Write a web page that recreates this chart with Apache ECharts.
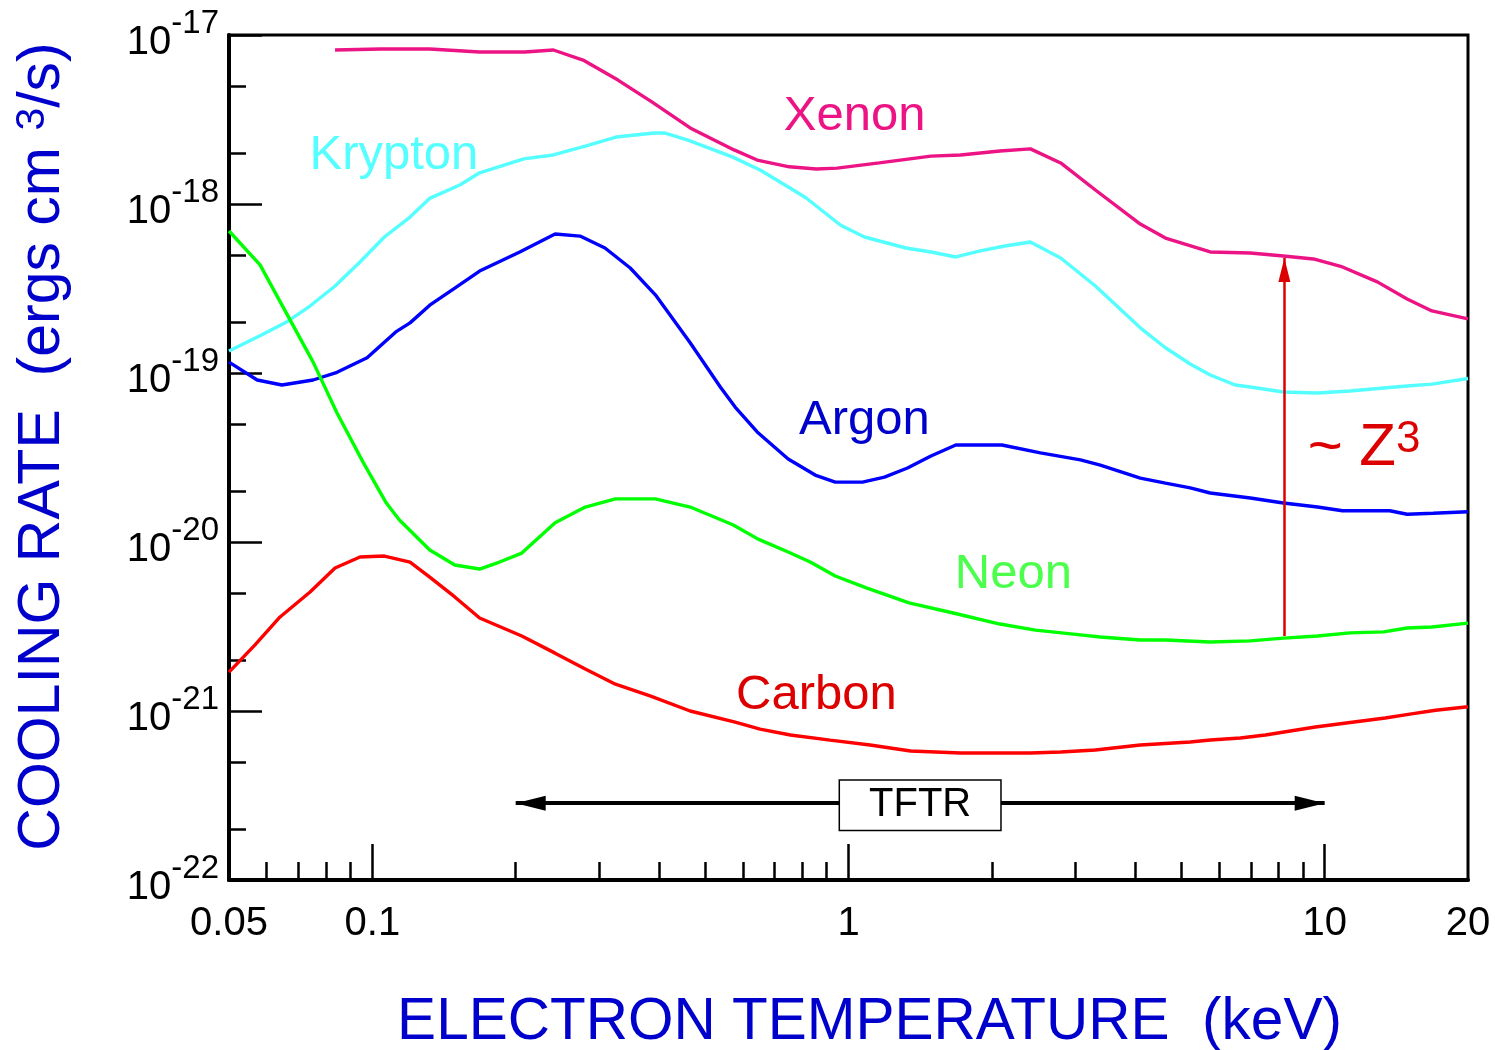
<!DOCTYPE html>
<html>
<head>
<meta charset="utf-8">
<script src="https://cdn.jsdelivr.net/npm/echarts@6/dist/echarts.min.js"></script>
<style>
html, body { margin: 0; padding: 0; background: #ffffff; }
#chart { width: 1495px; height: 1050px; }
</style>
</head>
<body>
<div id="chart"></div>
<script>
const FONT = '"Liberation Sans", Arial, Helvetica, sans-serif';

// ---- axis ticks / labels ----
const xTickLabels = [0.05, 0.1, 1, 10, 20];
const xMajorTicks = [0.1, 1, 10];
const xMinorTicks = [0.06, 0.07, 0.08, 0.09, 0.2, 0.3, 0.4, 0.5, 0.6, 0.7, 0.8, 0.9, 2, 3, 4, 5, 6, 7, 8, 9];
const yMajorTicks = [1e-22, 1e-21, 1e-20, 1e-19, 1e-18, 1e-17];
const yTickExponents = ['-22', '-21', '-20', '-19', '-18', '-17'];
const yMinorTicks = [2e-22, 5e-22, 2e-21, 5e-21, 2e-20, 5e-20, 2e-19, 5e-19, 2e-18, 5e-18];

// ---- series data: [electron temperature (keV), cooling rate (ergs cm^3/s)] ----
const xenon = [
  [0.0835, 8.15e-18], [0.104, 8.26e-18], [0.132, 8.26e-18], [0.168, 7.93e-18], [0.209, 7.93e-18],
  [0.240, 8.15e-18], [0.277, 7.11e-18], [0.328, 5.41e-18], [0.387, 4.01e-18], [0.465, 2.82e-18],
  [0.575, 2.09e-18], [0.643, 1.82e-18], [0.751, 1.66e-18], [0.856, 1.61e-18], [0.947, 1.63e-18],
  [1.16, 1.75e-18], [1.49, 1.92e-18], [1.72, 1.95e-18], [2.08, 2.06e-18], [2.41, 2.12e-18],
  [2.79, 1.75e-18], [3.30, 1.21e-18], [4.10, 7.61e-19], [4.63, 6.29e-19], [5.75, 5.20e-19],
  [6.98, 5.13e-19], [8.19, 4.92e-19], [9.47, 4.73e-19], [10.9, 4.24e-19], [12.9, 3.46e-19],
  [14.9, 2.74e-19], [16.8, 2.33e-19], [20, 2.09e-19]
];
const krypton = [
  [0.05, 1.35e-19], [0.0581, 1.66e-19], [0.0656, 1.98e-19], [0.074, 2.49e-19], [0.0835, 3.27e-19],
  [0.0942, 4.54e-19], [0.106, 6.38e-19], [0.120, 8.37e-19], [0.132, 1.08e-18], [0.153, 1.30e-18],
  [0.168, 1.53e-18], [0.208, 1.85e-18], [0.240, 1.95e-18], [0.280, 2.20e-18], [0.325, 2.49e-18],
  [0.391, 2.63e-18], [0.412, 2.63e-18], [0.460, 2.39e-18], [0.570, 1.90e-18], [0.652, 1.59e-18],
  [0.755, 1.24e-18], [0.815, 1.085e-18], [0.961, 7.51e-19], [1.08, 6.38e-19], [1.32, 5.49e-19],
  [1.49, 5.20e-19], [1.68, 4.86e-19], [1.89, 5.28e-19], [2.13, 5.64e-19], [2.41, 5.96e-19],
  [2.79, 4.79e-19], [3.30, 3.27e-19], [4.10, 1.85e-19], [4.63, 1.41e-19], [5.22, 1.13e-19],
  [5.75, 9.73e-20], [6.49, 8.49e-20], [6.98, 8.26e-20], [8.19, 7.72e-20], [9.66, 7.61e-20],
  [11.3, 7.82e-20], [13.3, 8.15e-20], [14.9, 8.37e-20], [16.8, 8.60e-20], [20, 9.28e-20]
];
const argon = [
  [0.05, 1.16e-19], [0.0573, 9.09e-20], [0.0646, 8.49e-20], [0.0751, 9.09e-20], [0.0843, 1.01e-19],
  [0.0975, 1.23e-19], [0.112, 1.75e-19], [0.120, 1.98e-19], [0.132, 2.52e-19], [0.149, 3.18e-19],
  [0.168, 4.01e-19], [0.204, 5.20e-19], [0.242, 6.64e-19], [0.273, 6.46e-19], [0.308, 5.49e-19],
  [0.348, 4.18e-19], [0.393, 2.90e-19], [0.465, 1.51e-19], [0.538, 8.26e-20], [0.578, 6.29e-20],
  [0.643, 4.48e-20], [0.747, 3.10e-20], [0.851, 2.49e-20], [0.938, 2.26e-20], [1.07, 2.26e-20],
  [1.19, 2.42e-20], [1.33, 2.74e-20], [1.49, 3.23e-20], [1.68, 3.75e-20], [2.10, 3.75e-20],
  [2.53, 3.37e-20], [3.07, 3.06e-20], [3.38, 2.85e-20], [4.10, 2.39e-20], [4.63, 2.23e-20],
  [5.22, 2.09e-20], [5.75, 1.95e-20], [6.98, 1.82e-20], [8.19, 1.70e-20], [9.66, 1.61e-20],
  [10.9, 1.53e-20], [13.7, 1.53e-20], [14.9, 1.46e-20], [16.9, 1.48e-20], [20, 1.51e-20]
];
const neon = [
  [0.05, 6.92e-19], [0.0581, 4.36e-19], [0.0656, 2.33e-19], [0.0751, 1.16e-19], [0.0843, 5.80e-20],
  [0.0956, 2.97e-20], [0.107, 1.70e-20], [0.114, 1.35e-20], [0.132, 8.96e-21], [0.149, 7.31e-21],
  [0.168, 6.92e-21], [0.185, 7.61e-21], [0.206, 8.60e-21], [0.242, 1.30e-20], [0.280, 1.61e-20],
  [0.324, 1.80e-20], [0.393, 1.80e-20], [0.465, 1.61e-20], [0.573, 1.26e-20], [0.646, 1.04e-20],
  [0.747, 8.72e-21], [0.831, 7.61e-21], [0.938, 6.29e-21], [1.09, 5.35e-21], [1.34, 4.36e-21],
  [1.66, 3.80e-21], [2.08, 3.27e-21], [2.47, 3.01e-21], [3.07, 2.82e-21], [3.38, 2.74e-21],
  [4.10, 2.63e-21], [4.63, 2.63e-21], [5.75, 2.56e-21], [6.98, 2.60e-21], [8.19, 2.70e-21],
  [9.66, 2.78e-21], [11.3, 2.90e-21], [13.3, 2.94e-21], [14.9, 3.10e-21], [16.8, 3.14e-21],
  [20, 3.31e-21]
];
const carbon = [
  [0.05, 1.70e-21], [0.0567, 2.46e-21], [0.064, 3.60e-21], [0.074, 5.06e-21], [0.0835, 7.02e-21],
  [0.0942, 8.15e-21], [0.106, 8.26e-21], [0.120, 7.61e-21], [0.132, 6.20e-21], [0.149, 4.73e-21],
  [0.168, 3.55e-21], [0.206, 2.78e-21], [0.242, 2.20e-21], [0.280, 1.77e-21], [0.324, 1.44e-21],
  [0.383, 1.23e-21], [0.465, 1.00e-21], [0.578, 8.60e-22], [0.652, 7.82e-22], [0.755, 7.21e-22],
  [0.915, 6.73e-22], [1.11, 6.29e-22], [1.35, 5.80e-22], [1.72, 5.64e-22], [2.08, 5.64e-22],
  [2.41, 5.64e-22], [2.79, 5.72e-22], [3.30, 5.88e-22], [4.10, 6.29e-22], [5.22, 6.55e-22],
  [5.75, 6.73e-22], [6.65, 6.92e-22], [7.51, 7.21e-22], [8.47, 7.61e-22], [9.56, 8.04e-22],
  [11.1, 8.49e-22], [13.4, 9.09e-22], [15.1, 9.59e-22], [17.1, 1.01e-21], [20, 1.06e-21]
];

// ---- annotations (data coordinates) ----
const seriesNames = ['Xenon', 'Krypton', 'Argon', 'Neon', 'Carbon'];
const labelAnchors = {
  Xenon: [1.03, 3.41e-18],
  Krypton: [0.111, 2.03e-18],
  Argon: [1.08, 5.42e-20],
  Neon: [2.22, 6.73e-21],
  Carbon: [0.856, 1.28e-21]
};
const tftrRange = [0.2, 10];
const tftrLevel = 2.85e-22;
const tftrLabelT = 1.414;
const z3ArrowT = 8.23;
const z3ArrowFrom = 2.78e-21;
const z3ArrowTo = 4.79e-19;
const z3LabelAnchor = [12.1, 3.65e-20];

const lineColors = { Xenon: '#EC1385', Krypton: '#55FFFF', Argon: '#0000FF', Neon: '#00FF00', Carbon: '#FF0000' };
const textColors = { Xenon: '#EC1385', Krypton: '#55FFFF', Argon: '#0000CC', Neon: '#4CFF4C', Carbon: '#DD0000' };
const dataByName = { Xenon: xenon, Krypton: krypton, Argon: argon, Neon: neon, Carbon: carbon };

function closestIndex(arr, v) {
  let best = 0, bd = Infinity;
  arr.forEach((a, i) => {
    const d = Math.abs(Math.log10(a) - Math.log10(v));
    if (d < bd) { bd = d; best = i; }
  });
  return best;
}

const series = seriesNames.map(name => ({
  type: 'line',
  name: name,
  data: dataByName[name],
  xAxisIndex: 0,
  yAxisIndex: 0,
  symbol: 'none',
  showSymbol: false,
  smooth: false,
  silent: true,
  z: 3,
  lineStyle: { color: lineColors[name], width: 3.4 },
  itemStyle: { color: lineColors[name] },
  markPoint: {
    silent: true,
    animation: false,
    symbol: 'circle',
    symbolSize: 0,
    data: [{
      coord: labelAnchors[name],
      label: {
        show: true, position: 'inside', formatter: name, offset: [0, 3],
        color: textColors[name], fontFamily: FONT, fontSize: 49
      }
    }]
  }
}));

// Z^3 arrow (attached to Neon) and its label
const neonSeries = series[3];
neonSeries.markLine = {
  silent: true,
  animation: false,
  symbol: ['none', 'triangle'],
  symbolSize: [12, 24],
  symbolOffset: [[0, 0], [0, '50%']],
  lineStyle: { color: '#DD0000', width: 2.5, type: 'solid' },
  label: { show: false },
  data: [[{ coord: [z3ArrowT, z3ArrowFrom] }, { coord: [z3ArrowT, z3ArrowTo] }]]
};
neonSeries.markPoint.data.push({
  coord: z3LabelAnchor,
  label: {
    show: true, position: 'inside', offset: [0, 1],
    formatter: '{a|~ Z}{s|3}',
    rich: {
      a: { fontFamily: FONT, fontSize: 60, color: '#DD0000', verticalAlign: 'bottom' },
      s: { fontFamily: FONT, fontSize: 44, color: '#DD0000', verticalAlign: 'bottom', padding: [0, 0, 17, 0] }
    }
  }
});

// TFTR range arrow (attached to Carbon)
const carbonSeries = series[4];
carbonSeries.markLine = {
  silent: true,
  animation: false,
  symbol: ['triangle', 'triangle'],
  symbolSize: [15, 30],
  symbolOffset: [[0, '50%'], [0, '50%']],
  lineStyle: { color: '#000000', width: 4, type: 'solid' },
  label: { show: false },
  data: [[{ coord: [tftrRange[0], tftrLevel] }, { coord: [tftrRange[1], tftrLevel] }]]
};
carbonSeries.markPoint.data.push({
  coord: [tftrLabelT, tftrLevel],
  label: {
    show: true, position: 'inside', formatter: 'TFTR', offset: [0, 2],
    color: '#000000', fontFamily: FONT, fontSize: 40,
    backgroundColor: '#ffffff', borderColor: '#000000', borderWidth: 1.5,
    padding: [5, 29, 4, 29]
  }
});
carbonSeries.markPoint.z = 10;

const option = {
  animation: false,
  backgroundColor: '#ffffff',
  textStyle: { fontFamily: FONT },
  grid: {
    left: 229, top: 35, right: 27, bottom: 170,
    show: true, borderColor: '#000000', borderWidth: 3, backgroundColor: 'transparent',
    containLabel: false, outerBoundsMode: 'none'
  },
  xAxis: [
    {
      type: 'log', logBase: 10, min: 0.05, max: 20, position: 'bottom',
      name: 'ELECTRON TEMPERATURE  (keV)', nameLocation: 'middle', nameGap: 113,
      nameTextStyle: { fontFamily: FONT, fontSize: 58.5, color: '#0000CC', padding: [0, 0, 0, 42] },
      axisLine: { show: true, onZero: false, lineStyle: { color: '#000000', width: 4 } },
      axisTick: { show: true, inside: true, length: 36, customValues: xMajorTicks, lineStyle: { color: '#000000', width: 2.5 } },
      axisLabel: {
        show: true, customValues: xTickLabels, margin: 24,
        fontFamily: FONT, fontSize: 40, color: '#000000',
        formatter: v => String(xTickLabels[closestIndex(xTickLabels, v)])
      },
      splitLine: { show: false }, minorTick: { show: false }, minorSplitLine: { show: false }
    },
    {
      type: 'log', logBase: 10, min: 0.05, max: 20, position: 'bottom',
      axisLine: { show: false },
      axisTick: { show: true, inside: true, length: 18, customValues: xMinorTicks, lineStyle: { color: '#000000', width: 2.5 } },
      axisLabel: { show: false },
      splitLine: { show: false }
    }
  ],
  yAxis: [
    {
      type: 'log', logBase: 10, min: 1e-22, max: 1e-17, position: 'left',
      name: '{t|COOLING RATE  (ergs cm }{s|3}{t|/s)}',
      nameLocation: 'middle', nameGap: 157, nameRotate: 90,
      nameTextStyle: {
        padding: [0, 0, 0, 22],
        rich: {
          t: { fontFamily: FONT, fontSize: 59, color: '#0000CC', verticalAlign: 'bottom' },
          s: { fontFamily: FONT, fontSize: 41, color: '#0000CC', verticalAlign: 'bottom', padding: [0, 0, 19, 0] }
        }
      },
      axisLine: { show: true, onZero: false, lineStyle: { color: '#000000', width: 4 } },
      axisTick: { show: true, inside: true, length: 33, customValues: yMajorTicks, lineStyle: { color: '#000000', width: 2.5 } },
      axisLabel: {
        show: true, customValues: yMajorTicks, margin: 10,
        formatter: v => '{b|10}{s|' + yTickExponents[closestIndex(yMajorTicks, v)] + '}',
        rich: {
          b: { fontFamily: FONT, fontSize: 40, color: '#000000', verticalAlign: 'bottom' },
          s: { fontFamily: FONT, fontSize: 33, color: '#000000', verticalAlign: 'bottom', padding: [0, 0, 23, 0] }
        }
      },
      splitLine: { show: false }, minorTick: { show: false }, minorSplitLine: { show: false }
    },
    {
      type: 'log', logBase: 10, min: 1e-22, max: 1e-17, position: 'left',
      axisLine: { show: false },
      axisTick: { show: true, inside: true, length: 17, customValues: yMinorTicks, lineStyle: { color: '#000000', width: 2.5 } },
      axisLabel: { show: false },
      splitLine: { show: false }
    }
  ],
  series: series
};

const chart = echarts.init(document.getElementById('chart'), null, { renderer: 'canvas', width: 1495, height: 1050 });
chart.setOption(option);
</script>
</body>
</html>
